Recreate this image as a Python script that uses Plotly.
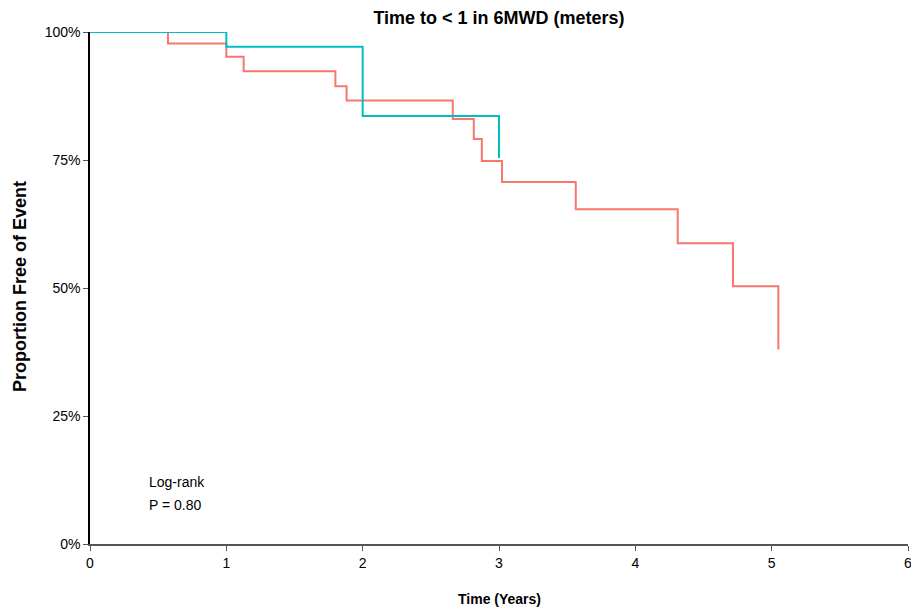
import plotly.graph_objects as go

# Kaplan-Meier step data (time in years, survival proportion)
red_times = [0, 0.572, 1.0, 1.127, 1.80, 1.882, 2.661, 2.815, 2.874, 3.022, 3.563, 4.311, 4.716, 5.049]
red_surv = [1.0, 0.9775, 0.9516, 0.9235, 0.894, 0.866, 0.830, 0.791, 0.748, 0.707, 0.654, 0.5875, 0.5035, 0.380]
red_end = 5.049

teal_times = [0, 1.0, 2.0, 3.0]
teal_surv = [1.0, 0.971, 0.836, 0.754]
teal_end = 3.0

x_ticks = [0, 1, 2, 3, 4, 5, 6]
y_ticks = [0, 0.25, 0.5, 0.75, 1.0]
y_tick_labels = ["0%", "25%", "50%", "75%", "100%"]

FONT = "Liberation Sans, Arial, sans-serif"

W, H = 911, 609
ML, MR, MT, MB = 90, 3, 32, 65
PW, PH = W - ML - MR, H - MT - MB


def steps(times, surv, end):
    xs = list(times) + [end]
    ys = list(surv) + [surv[-1]]
    return xs, ys


fig = go.Figure()
rx, ry = steps(red_times, red_surv, red_end)
tx, ty = steps(teal_times, teal_surv, teal_end)
fig.add_trace(go.Scatter(x=rx, y=ry, mode="lines", line=dict(color="#F8766D", width=2, shape="hv"),
                         showlegend=False, hoverinfo="skip", cliponaxis=False))
fig.add_trace(go.Scatter(x=tx, y=ty, mode="lines", line=dict(color="#00BFC4", width=2, shape="hv"),
                         showlegend=False, hoverinfo="skip", cliponaxis=False))

fig.update_layout(
    width=W, height=H,
    margin=dict(l=ML, r=MR, t=MT, b=MB, autoexpand=False),
    paper_bgcolor="white", plot_bgcolor="white",
    title=dict(text="<b>Time to &lt; 1 in 6MWD (meters)</b>", x=0.5, xanchor="center",
               xref="paper", yref="container", y=1 - 18 / H, yanchor="middle",
               font=dict(family=FONT, size=18, color="black")),
    xaxis=dict(range=[0, 6], tickvals=x_ticks, showgrid=False, zeroline=False,
               showline=True, linecolor="#555555", linewidth=2, ticks="outside",
               ticklen=5, tickcolor="#555555", automargin=False, ticklabeloverflow="allow",
               tickfont=dict(family=FONT, size=14, color="black")),
    yaxis=dict(range=[0, 1], tickvals=y_ticks, ticktext=y_tick_labels, showgrid=False,
               zeroline=False, showline=True, linecolor="black", linewidth=1.5,
               ticks="outside", ticklen=5, tickcolor="#555555", automargin=False,
               tickfont=dict(family=FONT, size=14, color="black")),
)

# axis titles
fig.add_annotation(x=0.5, y=-(599 - (MT + PH)) / PH, xref="paper", yref="paper",
                   text="<b>Time (Years)</b>", showarrow=False, xanchor="center", yanchor="middle",
                   font=dict(family=FONT, size=14, color="black"))
fig.add_annotation(x=(20 - ML) / PW, y=(MT + PH - 287) / PH, xref="paper", yref="paper",
                   text="<b>Proportion Free of Event</b>", showarrow=False, textangle=-90,
                   xanchor="center", yanchor="middle",
                   font=dict(family=FONT, size=18, color="black"))

# log-rank text
fig.add_annotation(x=0.418, y=0.122, xref="x", yref="y", text="Log-rank",
                   showarrow=False, xanchor="left", yanchor="middle", align="left",
                   font=dict(family=FONT, size=14, color="black"))
fig.add_annotation(x=0.418, y=0.077, xref="x", yref="y", text="P = 0.80",
                   showarrow=False, xanchor="left", yanchor="middle", align="left",
                   font=dict(family=FONT, size=14, color="black"))

fig.write_html(
    "out.html",
    config={"displayModeBar": False},
    post_script="document.body.style.margin='0';document.body.style.overflow='hidden';",
)
